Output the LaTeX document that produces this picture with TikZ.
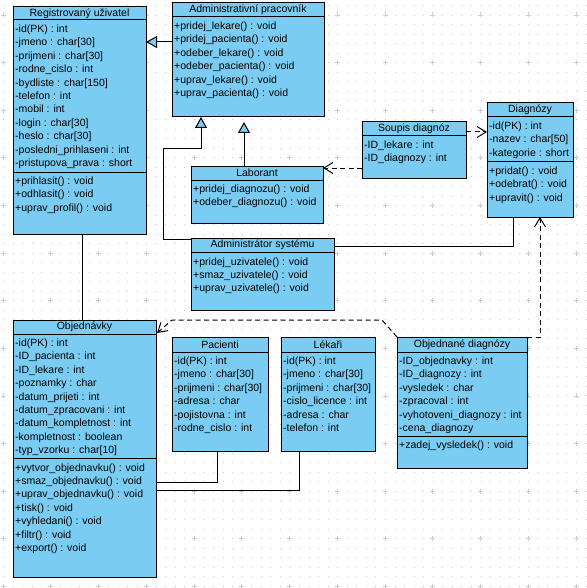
\documentclass[tikz,border=0pt]{standalone}
\usepackage{fontspec}
\setmainfont{Liberation Sans}
\usetikzlibrary{arrows.meta}
\definecolor{umlblue}{RGB}{122,204,242}

\begin{document}
\begin{tikzpicture}[x=1pt, y=-1pt,
    cls/.style={draw, fill=umlblue, line width=1pt, anchor=north west, inner sep=0pt, outer sep=0pt},
    clstitle/.style={draw, fill=umlblue, line width=1pt, anchor=north, inner sep=0pt, outer sep=0pt, minimum height=14, font=\fontsize{10.5}{12}\selectfont},
    member/.style={anchor=base west, inner sep=0pt, font=\fontsize{10.5}{12}\selectfont},
    gen/.style={line width=1pt, -{Triangle[length=11pt, width=12pt, fill=umlblue]}},
    dep/.style={line width=1pt, dash pattern=on 5pt off 3.5pt, -{Straight Barb[length=9pt, width=11pt]}},
    assoc/.style={line width=1pt},
    griddot/.style={gray!45, line width=0.8pt, dash pattern=on 0.8pt off 8.75pt},
    gridplus/.style={gray!40, line width=0.6pt}]

		\useasboundingbox (0,0) rectangle (586,588);
		\fill[white] (0,0) rectangle (586,588);
		% background grid
		\foreach \gy in {0,...,61}
			\draw[griddot] (3, 5.5+9.52*\gy) -- (586, 5.5+9.52*\gy);
		\foreach \px in {0,...,12}
			\foreach \py in {0,...,12}
				\draw[gridplus] (3+47.75*\px-2.5, 15+47.6*\py) -- ++(5,0) (3+47.75*\px, 15+47.6*\py-2.5) -- ++(0,5);

		% Registrovany uzivatel
		\node[cls, minimum width=133, minimum height=227] (reg) at (13,7) {};
		\node[clstitle, minimum width=133, minimum height=13] (regT) at (reg.north) {Registrovaný uživatel};
		\foreach \m [count=\i] in {-id(PK) : int, -jmeno : char[30], -prijmeni : char[30], -rodne\_cislo : int, -bydliste : char[150], -telefon : int, -mobil : int, -login : char[30], -heslo : char[30], -posledni\_prihlaseni : int, -pristupova\_prava : short}
			\node[member] (reg-a\i) at ([xshift=2, yshift={-12.1-13.4*\i}]reg.north west) {\m};
		\draw[line width=1pt] ([yshift=-165]reg.north west) -- ([yshift=-165]reg.north east);
		\foreach \m [count=\i] in {+prihlasit() : void, +odhlasit() : void, +uprav\_profil() : void}
			\node[member] (reg-m\i) at ([xshift=2, yshift={-164.1-13.4*\i}]reg.north west) {\m};

		% Administrativni pracovnik
		\node[cls, minimum width=152, minimum height=114] (admin) at (172,3) {};
		\node[clstitle, minimum width=152] (adminT) at (admin.north) {Administrativní pracovník};
		\foreach \m [count=\i] in {+pridej\_lekare() : void, +pridej\_pacienta() : void, +odeber\_lekare() : void, +odeber\_pacienta() : void, +uprav\_lekare() : void, +uprav\_pacienta() : void}
			\node[member] (admin-m\i) at ([xshift=2, yshift={-13.1-13.4*\i}]admin.north west) {\m};

		% Laborant
		\node[cls, minimum width=132, minimum height=57] (lab) at (191,166) {};
		\node[clstitle, minimum width=132] (labT) at (lab.north) {Laborant};
		\foreach \m [count=\i] in {+pridej\_diagnozu() : void, +odeber\_diagnozu() : void}
			\node[member] (lab-m\i) at ([xshift=2, yshift={-13.1-13.4*\i}]lab.north west) {\m};

		% Administrator systemu
		\node[cls, minimum width=143, minimum height=72] (sys) at (191,238) {};
		\node[clstitle, minimum width=143] (sysT) at (sys.north) {Administrátor systému};
		\foreach \m [count=\i] in {+pridej\_uzivatele() : void, +smaz\_uzivatele() : void, +uprav\_uzivatele() : void}
			\node[member] (sys-m\i) at ([xshift=2, yshift={-13.6-13.4*\i}]sys.north west) {\m};

		% Soupis diagnoz
		\node[cls, minimum width=104, minimum height=56] (soupis) at (362,122) {};
		\node[clstitle, minimum width=104] (soupisT) at (soupis.north) {Soupis diagnóz};
		\foreach \m [count=\i] in {-ID\_lekare : int, -ID\_diagnozy : int}
			\node[member] (soupis-a\i) at ([xshift=2, yshift={-13.1-13.4*\i}]soupis.north west) {\m};

		% Diagnozy
		\node[cls, minimum width=86, minimum height=114] (diag) at (487,103) {};
		\node[clstitle, minimum width=86] (diagT) at (diag.north) {Diagnózy};
		\foreach \m [count=\i] in {-id(PK) : int, -nazev : char[50], -kategorie : short}
			\node[member] (diag-a\i) at ([xshift=2, yshift={-13.1-13.4*\i}]diag.north west) {\m};
		\draw[line width=1pt] ([yshift=-59]diag.north west) -- ([yshift=-59]diag.north east);
		\foreach \m [count=\i] in {+pridat() : void, +odebrat() : void, +upravit() : void}
			\node[member] (diag-m\i) at ([xshift=2, yshift={-58.1-13.4*\i}]diag.north west) {\m};

		% Objednavky
		\node[cls, minimum width=143, minimum height=257] (obj) at (13,320) {};
		\node[clstitle, minimum width=143] (objT) at (obj.north) {Objednávky};
		\foreach \m [count=\i] in {-id(PK) : int, -ID\_pacienta : int, -ID\_lekare : int, -poznamky : char, -datum\_prijeti : int, -datum\_zpracovani : int, -datum\_kompletnost : int, -kompletnost : boolean, -typ\_vzorku : char[10]}
			\node[member] (obj-a\i) at ([xshift=2, yshift={-13.1-13.4*\i}]obj.north west) {\m};
		\draw[line width=1pt] ([yshift=-138]obj.north west) -- ([yshift=-138]obj.north east);
		\foreach \m [count=\i] in {+vytvor\_objednavku() : void, +smaz\_objednavku() : void, +uprav\_objednavku() : void, +tisk() : void, +vyhledani() : void, +filtr() : void, +export() : void}
			\node[member] (obj-m\i) at ([xshift=2, yshift={-137.6-13.4*\i}]obj.north west) {\m};

		% Pacienti
		\node[cls, minimum width=96, minimum height=114] (pac) at (172,337) {};
		\node[clstitle, minimum width=96, minimum height=15] (pacT) at (pac.north) {Pacienti};
		\foreach \m [count=\i] in {-id(PK) : int, -jmeno : char[30], -prijmeni : char[30], -adresa : char, -pojistovna : int, -rodne\_cislo : int}
			\node[member] (pac-a\i) at ([xshift=2, yshift={-14.1-13.4*\i}]pac.north west) {\m};

		% Lekari
		\node[cls, minimum width=94, minimum height=114] (lek) at (281,337) {};
		\node[clstitle, minimum width=94, minimum height=15] (lekT) at (lek.north) {Lékaři};
		\foreach \m [count=\i] in {-id(PK) : int, -jmeno : char[30], -prijmeni : char[30], -cislo\_licence : int, -adresa : char, -telefon : int}
			\node[member] (lek-a\i) at ([xshift=2, yshift={-14.1-13.4*\i}]lek.north west) {\m};

		% Objednane diagnozy
		\node[cls, minimum width=130, minimum height=131] (objdiag) at (397,337) {};
		\node[clstitle, minimum width=130, minimum height=15] (objdiagT) at (objdiag.north) {Objednané diagnózy};
		\foreach \m [count=\i] in {-ID\_objednavky : int, -ID\_diagnozy : int, -vysledek : char, -zpracoval : int, -vyhotoveni\_diagnozy : int, -cena\_diagnozy}
			\node[member] (objdiag-a\i) at ([xshift=2, yshift={-14.1-13.4*\i}]objdiag.north west) {\m};
		\draw[line width=1pt] ([yshift=-99]objdiag.north west) -- ([yshift=-99]objdiag.north east);
		\node[member] (objdiag-m1) at ([xshift=2, yshift={-98.1-13.4}]objdiag.north west) {+zadej\_vysledek() : void};

		% connectors
		\coordinate (sysbend) at (163,149);
		\coordinate (od1) at (382,320);
		\coordinate (od2) at (172,320);

		\draw[gen] ([yshift=-39]admin.north west) -- ([yshift=-39]admin.north west -| reg.east);
		\draw[gen] ([yshift=-1]sys.north west) -| (sysbend) -| ([xshift=29]admin.south west);
		\draw[gen, shorten >=5pt] ([xshift=53]lab.north west) -- ([xshift=53]lab.north west |- admin.south);
		\draw[assoc] ([xshift=69]reg.south west) -- ([xshift=69]obj.north west);
		\draw[dep] ([yshift=-10]soupis.north east) -- ([yshift=-10]soupis.north east -| diag.west);
		\draw[dep] ([yshift=-46]soupis.north west) -- ([yshift=-46]soupis.north west -| lab.east);
		\draw[assoc] ([xshift=26]diag.south west) |- ([yshift=-8]sys.north east);
		\draw[dep] (objdiag.north east) -| ([xshift=53]diag.south west);
		\draw[dep] (objdiag.north west) -- (od1) -- (od2) -- ([xshift=1, yshift=-13]obj.north east);
		\draw[assoc] ([xshift=45]pac.south west) |- ([yshift=-162]obj.north east);
		\draw[assoc] ([xshift=18]lek.south west) |- ([yshift=-170]obj.north east);
\end{tikzpicture}
\end{document}
